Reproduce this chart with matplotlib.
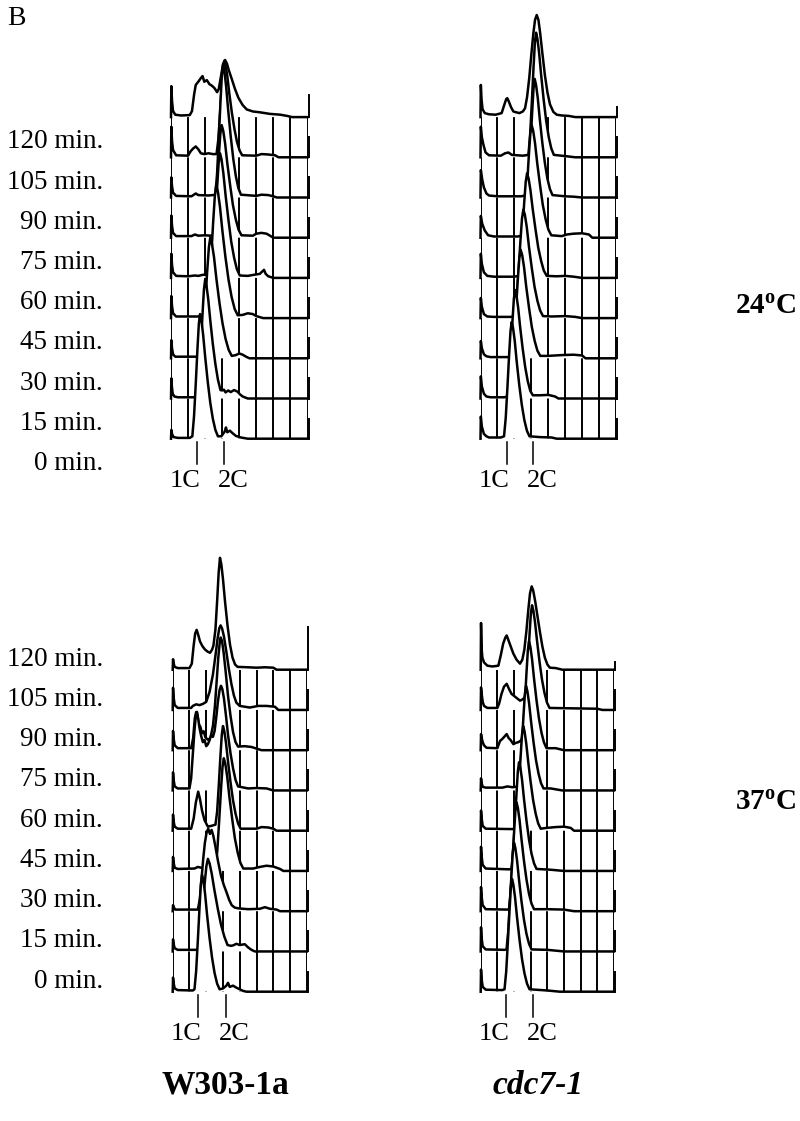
import matplotlib
matplotlib.use('Agg')
import matplotlib.pyplot as plt
from matplotlib import transforms

# ---------------- fonts ----------------
plt.rcParams['font.family'] = 'Liberation Serif'
plt.rcParams['mathtext.fontset'] = 'custom'
plt.rcParams['mathtext.rm'] = 'Liberation Serif'
plt.rcParams['mathtext.bf'] = 'Liberation Serif:bold'

# ---------------- data ----------------
# time points, one histogram per time point (bottom = 0 min)
minutes = [0, 15, 30, 45, 60, 75, 90, 105, 120]
# DNA content in grid columns (0..8), cell count in grid rows (1 row = 1 box)
# positions of the 1C / 2C markers on the DNA axis
marks_w24 = [1.54, 3.11]
marks_c24 = [1.55, 3.12]
marks_w37 = [1.53, 3.17]
marks_c37 = [1.52, 3.16]

# W303-1a, 24C
w24_000 = [(0, 0), (0.02, 0.22), (0.06, 0.12), (0.15, 0.04), (0.4, 0.02), (1.1, 0.02),
           (1.25, 0.06), (1.35, 0.56), (1.45, 1.36), (1.55, 2.23), (1.63, 2.85), (1.7, 3.1), (1.78, 2.95),
           (1.88, 2.6), (2.0, 2.05), (2.15, 1.43), (2.3, 0.9), (2.45, 0.5), (2.6, 0.22), (2.75, 0.06),
           (2.95, 0.06), (3.05, 0.12), (3.15, 0.18), (3.22, 0.28), (3.3, 0.16), (3.45, 0.2), (3.6, 0.14),
           (3.8, 0.07), (4.1, 0.03), (4.5, 0)]
w24_015 = [(0, 0), (0.02, 0.5), (0.05, 0.3), (0.1, 0.12), (0.2, 0.05), (0.4, 0.03), (1.35, 0.03),
           (1.55, 0.06), (1.65, 0.53), (1.75, 1.3), (1.85, 2.12), (1.93, 2.71), (2.0, 2.95), (2.08, 2.8),
           (2.18, 2.48), (2.3, 1.95), (2.45, 1.36), (2.6, 0.86), (2.75, 0.47), (2.9, 0.21), (3.0, 0.2),
           (3.1, 0.22), (3.2, 0.15), (3.35, 0.2), (3.5, 0.16), (3.7, 0.21), (3.9, 0.17), (4.05, 0.1),
           (4.2, 0.05), (4.5, 0)]
w24_030 = [(0, 0), (0.02, 0.45), (0.06, 0.25), (0.12, 0.1), (0.25, 0.04), (1.55, 0.04),
           (1.76, 0.06), (1.88, 0.54), (2.0, 1.32), (2.12, 2.16), (2.22, 2.76), (2.3, 3.0), (2.4, 2.85),
           (2.52, 2.52), (2.66, 1.98), (2.84, 1.38), (3.02, 0.87), (3.2, 0.48), (3.38, 0.21), (3.56, 0.06),
           (3.8, 0.08), (4.0, 0.12), (4.2, 0.09), (4.4, 0.04), (4.6, 0)]
w24_045 = [(0, 0), (0.02, 0.55), (0.06, 0.3), (0.12, 0.12), (0.3, 0.04), (1.6, 0.04), (1.8, 0.06),
           (2.0, 0.05), (2.11, 0.07), (2.23, 0.59), (2.35, 1.45), (2.47, 2.38), (2.57, 3.04), (2.65, 3.3),
           (2.75, 3.14), (2.87, 2.77), (3.01, 2.18), (3.19, 1.52), (3.37, 0.96), (3.55, 0.53), (3.73, 0.23),
           (3.91, 0.07), (4.2, 0.08), (4.5, 0.12), (4.8, 0.1), (5.0, 0.05), (5.4, 0)]
w24_060 = [(0, 0), (0.02, 0.6), (0.06, 0.32), (0.12, 0.14), (0.3, 0.05), (1.0, 0.04), (1.4, 0.06),
           (1.6, 0.05), (1.9, 0.08), (2.2, 0.06), (2.37, 0.06), (2.48, 0.56), (2.59, 1.36), (2.7, 2.23),
           (2.79, 2.85), (2.87, 3.1), (2.96, 2.95), (3.07, 2.6), (3.2, 2.05), (3.37, 1.43), (3.53, 0.9),
           (3.7, 0.5), (3.86, 0.22), (4.03, 0.06), (4.5, 0.05), (4.9, 0.08), (5.2, 0.1), (5.45, 0.2),
           (5.55, 0.1), (5.7, 0.04), (6.0, 0)]
w24_075 = [(0, 0), (0.02, 0.55), (0.06, 0.3), (0.12, 0.12), (0.3, 0.04), (1.2, 0.04), (1.4, 0.08),
           (1.6, 0.05), (2.0, 0.06), (2.3, 0.05), (2.47, 0.06), (2.58, 0.5), (2.69, 1.23), (2.8, 2.02),
           (2.89, 2.58), (2.97, 2.8), (3.06, 2.66), (3.17, 2.35), (3.3, 1.85), (3.47, 1.29), (3.63, 0.81),
           (3.8, 0.45), (3.96, 0.2), (4.13, 0.06), (4.8, 0.05), (5.0, 0.1), (5.3, 0.12), (5.6, 0.1),
           (5.8, 0.05), (6.0, 0)]
w24_090 = [(0, 0), (0.02, 0.5), (0.06, 0.28), (0.12, 0.12), (0.3, 0.04), (1.2, 0.03), (1.45, 0.1),
           (1.6, 0.06), (2.2, 0.05), (2.45, 0.06), (2.6, 0.07), (2.7, 0.59), (2.8, 1.45), (2.9, 2.38),
           (2.98, 3.04), (3.05, 3.3), (3.13, 3.14), (3.23, 2.77), (3.35, 2.18), (3.5, 1.52), (3.65, 0.96),
           (3.8, 0.53), (3.95, 0.23), (4.1, 0.07), (5.0, 0.04), (5.3, 0.07), (5.7, 0.06), (6.0, 0.03), (6.2, 0)]
w24_105 = [(0, 0), (0.02, 0.76), (0.06, 0.4), (0.12, 0.18), (0.3, 0.05), (1.0, 0.04), (1.15, 0.15),
           (1.3, 0.22), (1.45, 0.27), (1.6, 0.2), (1.75, 0.1), (1.95, 0.08), (2.2, 0.1), (2.45, 0.08),
           (2.67, 0.08), (2.77, 0.43), (2.87, 1.06), (2.97, 1.73), (3.05, 2.21), (3.12, 2.4), (3.2, 2.28),
           (3.3, 2.02), (3.42, 1.58), (3.57, 1.1), (3.72, 0.7), (3.87, 0.38), (4.02, 0.17), (4.17, 0.05),
           (5.0, 0.04), (5.3, 0.08), (5.7, 0.07), (6.1, 0.05), (6.3, 0)]
w24_120 = [(0, 0), (0.02, 0.77), (0.06, 0.4), (0.12, 0.15), (0.25, 0.06), (0.6, 0.04), (1.1, 0.05),
           (1.23, 0.15), (1.35, 0.55), (1.45, 0.8), (1.6, 0.88), (1.75, 0.97), (1.85, 1.02), (1.95, 0.88),
           (2.1, 0.92), (2.25, 0.82), (2.4, 0.78), (2.55, 0.72), (2.7, 0.62), (2.8, 0.7), (2.93, 1.02),
           (3.05, 1.32), (3.17, 1.42), (3.28, 1.33), (3.4, 1.15), (3.56, 0.95), (3.75, 0.7), (3.95, 0.48),
           (4.2, 0.3), (4.44, 0.19), (4.8, 0.14), (5.2, 0.12), (5.8, 0.08), (6.4, 0.06), (6.8, 0.03), (7.1, 0)]

# cdc7-1, 24C
c24_000 = [(0, 0), (0.02, 0.55), (0.08, 0.3), (0.2, 0.12), (0.35, 0.06), (0.5, 0.03), (1.2, 0.03),
           (1.39, 0.06), (1.49, 0.52), (1.59, 1.28), (1.69, 2.09), (1.77, 2.67), (1.84, 2.9), (1.92, 2.76),
           (2.02, 2.44), (2.14, 1.91), (2.29, 1.33), (2.44, 0.84), (2.59, 0.46), (2.74, 0.2), (2.89, 0.06),
           (3.5, 0.04), (4.2, 0.03), (4.5, 0)]
c24_015 = [(0, 0), (0.02, 0.55), (0.08, 0.3), (0.2, 0.12), (0.35, 0.05), (0.6, 0.03), (1.4, 0.03),
           (1.59, 0.05), (1.69, 0.49), (1.79, 1.19), (1.89, 1.94), (1.97, 2.48), (2.04, 2.7), (2.12, 2.57),
           (2.22, 2.27), (2.34, 1.78), (2.49, 1.24), (2.64, 0.78), (2.79, 0.43), (2.94, 0.19), (3.09, 0.08),
           (3.5, 0.08), (4.0, 0.09), (4.4, 0.05), (4.6, 0)]
c24_030 = [(0, 0), (0.02, 0.43), (0.08, 0.25), (0.2, 0.1), (0.35, 0.05), (0.6, 0.03), (1.7, 0.03),
           (1.87, 0.05), (1.98, 0.49), (2.09, 1.19), (2.2, 1.94), (2.29, 2.48), (2.37, 2.7), (2.46, 2.57),
           (2.57, 2.27), (2.7, 1.78), (2.87, 1.24), (3.03, 0.78), (3.2, 0.43), (3.36, 0.19), (3.53, 0.06),
           (4.0, 0.06), (4.8, 0.08), (5.5, 0.09), (6.0, 0.07), (6.2, 0)]
c24_045 = [(0, 0), (0.02, 0.5), (0.08, 0.28), (0.2, 0.1), (0.4, 0.04), (0.8, 0.03), (1.8, 0.03),
           (2.03, 0.05), (2.14, 0.49), (2.25, 1.19), (2.36, 1.94), (2.45, 2.48), (2.53, 2.7), (2.62, 2.57),
           (2.73, 2.27), (2.86, 1.78), (3.03, 1.24), (3.19, 0.78), (3.36, 0.43), (3.52, 0.19), (3.69, 0.05),
           (4.2, 0.04), (5.0, 0.05), (5.6, 0.03), (6.0, 0)]
c24_060 = [(0, 0), (0.02, 0.6), (0.08, 0.35), (0.2, 0.14), (0.4, 0.05), (0.8, 0.03), (2.0, 0.03),
           (2.25, 0.05), (2.36, 0.47), (2.47, 1.14), (2.58, 1.87), (2.67, 2.39), (2.75, 2.6), (2.84, 2.47),
           (2.95, 2.18), (3.08, 1.72), (3.25, 1.2), (3.41, 0.75), (3.58, 0.42), (3.74, 0.18), (3.91, 0.05),
           (4.5, 0.04), (5.0, 0.05), (5.5, 0.03), (6.0, 0)]
c24_075 = [(0, 0), (0.02, 0.54), (0.1, 0.35), (0.25, 0.18), (0.45, 0.06), (0.8, 0.03), (2.2, 0.03),
           (2.52, 0.06), (2.63, 0.5), (2.74, 1.23), (2.85, 2.02), (2.94, 2.58), (3.02, 2.8), (3.11, 2.66),
           (3.22, 2.35), (3.35, 1.85), (3.52, 1.29), (3.68, 0.81), (3.85, 0.45), (4.01, 0.2), (4.18, 0.06),
           (4.8, 0.04), (5.1, 0.08), (5.5, 0.1), (6.0, 0.11), (6.4, 0.08), (6.6, 0)]
c24_090 = [(0, 0), (0.02, 0.68), (0.1, 0.45), (0.2, 0.25), (0.35, 0.1), (0.5, 0.05), (1.0, 0.03),
           (2.4, 0.03), (2.75, 0.06), (2.85, 0.53), (2.95, 1.3), (3.05, 2.12), (3.13, 2.71), (3.2, 2.95),
           (3.28, 2.8), (3.38, 2.48), (3.5, 1.95), (3.65, 1.36), (3.8, 0.86), (3.95, 0.47), (4.1, 0.21),
           (4.25, 0.06), (5.0, 0.03), (5.5, 0.02), (6.0, 0)]
c24_105 = [(0, 0), (0.02, 0.76), (0.08, 0.5), (0.18, 0.3), (0.3, 0.12), (0.5, 0.05), (1.2, 0.04),
           (1.45, 0.1), (1.65, 0.12), (1.85, 0.06), (2.5, 0.04), (2.83, 0.06), (2.93, 0.56), (3.03, 1.36),
           (3.13, 2.23), (3.21, 2.85), (3.28, 3.1), (3.36, 2.95), (3.46, 2.6), (3.58, 2.05), (3.73, 1.43),
           (3.88, 0.9), (4.03, 0.5), (4.18, 0.22), (4.33, 0.06), (5.0, 0.03), (5.6, 0)]
c24_120 = [(0, 0), (0.02, 0.8), (0.06, 0.45), (0.12, 0.2), (0.25, 0.1), (0.5, 0.07), (0.9, 0.06),
           (1.25, 0.1), (1.4, 0.3), (1.52, 0.45), (1.58, 0.47), (1.66, 0.4), (1.8, 0.25), (1.94, 0.14),
           (2.1, 0.12), (2.3, 0.1), (2.5, 0.14), (2.63, 0.22), (2.75, 0.5), (2.88, 0.98), (3.0, 1.55),
           (3.12, 2.08), (3.22, 2.42), (3.32, 2.54), (3.42, 2.42), (3.52, 2.1), (3.65, 1.6), (3.8, 1.05),
           (3.95, 0.62), (4.1, 0.32), (4.3, 0.13), (4.5, 0.06), (4.8, 0.04), (5.2, 0.03), (5.6, 0)]

# W303-1a, 37C
w37_000 = [(0, 0), (0.02, 0.35), (0.06, 0.2), (0.12, 0.08), (0.3, 0.04), (1.2, 0.03),
           (1.3, 0.06), (1.4, 0.52), (1.5, 1.28), (1.6, 2.09), (1.68, 2.67), (1.75, 2.9), (1.83, 2.76),
           (1.93, 2.44), (2.05, 1.91), (2.2, 1.33), (2.35, 0.84), (2.5, 0.46), (2.65, 0.2), (2.8, 0.06),
           (3.0, 0.08), (3.2, 0.15), (3.3, 0.22), (3.4, 0.12), (3.6, 0.15), (3.8, 0.1), (4.0, 0.06),
           (4.2, 0.02), (4.4, 0)]
w37_015 = [(0, 0), (0.02, 0.3), (0.06, 0.18), (0.12, 0.08), (0.3, 0.04), (1.35, 0.04),
           (1.51, 0.05), (1.64, 0.41), (1.77, 1.01), (1.9, 1.66), (2.01, 2.12), (2.1, 2.3), (2.2, 2.19),
           (2.33, 1.93), (2.49, 1.52), (2.69, 1.06), (2.88, 0.67), (3.08, 0.37), (3.27, 0.16), (3.47, 0.14),
           (3.6, 0.15), (3.8, 0.19), (4.0, 0.16), (4.3, 0.18), (4.5, 0.1), (4.7, 0.04), (4.9, 0)]
w37_030 = [(0, 0), (0.02, 0.15), (0.06, 0.1), (0.15, 0.04), (1.5, 0.04), (1.62, 0.3), (1.72, 0.8),
           (1.82, 1.3), (1.92, 1.7), (2.02, 1.95), (2.12, 2.05), (2.22, 1.92), (2.32, 2.02), (2.42, 1.88),
           (2.55, 1.6), (2.7, 1.25), (2.88, 0.88), (3.05, 0.65), (3.22, 0.46), (3.37, 0.28), (3.52, 0.15),
           (3.7, 0.09), (3.92, 0.07), (4.5, 0.05), (5.2, 0.06), (5.5, 0.1), (5.8, 0.06), (6.2, 0.04), (6.4, 0)]
w37_045 = [(0, 0), (0.02, 0.35), (0.06, 0.2), (0.12, 0.08), (0.3, 0.05), (1.3, 0.06), (1.5, 0.1),
           (1.8, 0.07), (2.3, 0.08), (2.55, 0.08), (2.66, 0.5), (2.77, 1.23), (2.88, 2.02), (2.97, 2.58),
           (3.05, 2.8), (3.14, 2.66), (3.25, 2.35), (3.38, 1.85), (3.55, 1.29), (3.71, 0.81), (3.88, 0.45),
           (4.04, 0.2), (4.21, 0.06), (4.8, 0.06), (5.2, 0.1), (5.6, 0.13), (6.0, 0.11), (6.4, 0.05), (6.6, 0)]
w37_060 = [(0, 0), (0.02, 0.4), (0.06, 0.22), (0.12, 0.1), (0.3, 0.05), (1.1, 0.05), (1.25, 0.3),
           (1.38, 0.7), (1.52, 0.97), (1.62, 0.8), (1.75, 0.5), (1.9, 0.26), (2.1, 0.1), (2.3, 0.12),
           (2.55, 0.15), (2.65, 0.47), (2.75, 1.14), (2.85, 1.87), (2.93, 2.39), (3.0, 2.6), (3.08, 2.47),
           (3.18, 2.18), (3.3, 1.72), (3.45, 1.2), (3.6, 0.75), (3.75, 0.42), (3.9, 0.18), (4.05, 0.05),
           (4.3, 0.05), (5.0, 0.05), (5.3, 0.09), (5.7, 0.08), (6.0, 0.05), (6.2, 0)]
w37_075 = [(0, 0), (0.02, 0.45), (0.06, 0.25), (0.12, 0.1), (0.3, 0.05), (1.0, 0.05), (1.1, 0.3),
           (1.2, 0.9), (1.3, 1.5), (1.38, 1.85), (1.45, 1.95), (1.52, 1.78), (1.6, 1.55), (1.7, 1.35),
           (1.8, 1.2), (1.9, 1.25), (2.0, 1.1), (2.1, 1.15), (2.2, 1.25), (2.3, 1.38), (2.4, 1.33), (2.5, 1.48),
           (2.6, 1.82), (2.7, 2.22), (2.8, 2.5), (2.88, 2.6), (2.96, 2.52), (3.06, 2.28), (3.18, 1.85),
           (3.3, 1.38), (3.45, 0.92), (3.6, 0.55), (3.75, 0.26), (3.9, 0.1), (4.5, 0.05), (5.0, 0.06),
           (5.6, 0.05), (6.0, 0)]
w37_090 = [(0, 0), (0.02, 0.48), (0.06, 0.28), (0.12, 0.12), (0.3, 0.05), (1.1, 0.05), (1.22, 0.3),
           (1.32, 0.8), (1.4, 0.95), (1.47, 0.88), (1.55, 0.65), (1.65, 0.58), (1.75, 0.42), (1.85, 0.47),
           (1.95, 0.32), (2.1, 0.26), (2.25, 0.3), (2.4, 0.6), (2.52, 1.1), (2.62, 1.7), (2.72, 2.3),
           (2.8, 2.65), (2.86, 2.8), (2.94, 2.72), (3.04, 2.42), (3.16, 1.95), (3.3, 1.35), (3.45, 0.85),
           (3.6, 0.45), (3.75, 0.2), (3.9, 0.09), (4.3, 0.1), (4.7, 0.08), (5.0, 0.04), (5.3, 0)]
w37_105 = [(0, 0), (0.02, 0.55), (0.06, 0.3), (0.12, 0.12), (0.3, 0.05), (1.1, 0.05), (1.2, 0.1),
           (1.4, 0.14), (1.6, 0.12), (1.8, 0.15), (2.0, 0.2), (2.2, 0.45), (2.4, 0.88), (2.55, 1.35),
           (2.68, 1.78), (2.78, 2.03), (2.86, 2.1), (2.95, 2.02), (3.06, 1.82), (3.2, 1.45), (3.35, 1.02),
           (3.5, 0.65), (3.65, 0.36), (3.8, 0.18), (4.0, 0.1), (4.6, 0.06), (5.1, 0.1), (5.6, 0.1),
           (6.1, 0.08), (6.3, 0)]
w37_120 = [(0, 0), (0.02, 0.26), (0.06, 0.15), (0.12, 0.07), (0.3, 0.04), (1.0, 0.04), (1.14, 0.15),
           (1.25, 0.6), (1.34, 0.9), (1.43, 0.99), (1.52, 0.87), (1.63, 0.7), (1.78, 0.58), (1.93, 0.5),
           (2.08, 0.45), (2.23, 0.42), (2.35, 0.5), (2.43, 0.6), (2.55, 1.0), (2.65, 1.7), (2.74, 2.4),
           (2.82, 2.78), (2.9, 2.62), (3.0, 2.25), (3.12, 1.7), (3.27, 1.1), (3.42, 0.62), (3.57, 0.3),
           (3.72, 0.13), (3.87, 0.07), (4.5, 0.06), (5.0, 0.05), (5.5, 0.06), (6.0, 0.05), (6.2, 0)]

# cdc7-1, 37C
c37_000 = [(0, 0), (0.02, 0.55), (0.06, 0.3), (0.12, 0.12), (0.3, 0.05), (1.3, 0.04),
           (1.43, 0.06), (1.53, 0.5), (1.63, 1.23), (1.73, 2.02), (1.81, 2.58), (1.88, 2.8), (1.96, 2.66),
           (2.06, 2.35), (2.18, 1.85), (2.33, 1.29), (2.48, 0.81), (2.63, 0.45), (2.78, 0.2), (2.93, 0.06),
           (4.0, 0.03), (4.76, 0)]
c37_015 = [(0, 0), (0.02, 0.6), (0.06, 0.32), (0.12, 0.13), (0.3, 0.05), (1.45, 0.04),
           (1.55, 0.05), (1.65, 0.49), (1.75, 1.19), (1.85, 1.94), (1.93, 2.48), (2.0, 2.7), (2.08, 2.57),
           (2.18, 2.27), (2.3, 1.78), (2.45, 1.24), (2.6, 0.78), (2.75, 0.43), (2.9, 0.19), (3.05, 0.05),
           (4.0, 0.04), (5.0, 0)]
c37_030 = [(0, 0), (0.02, 0.6), (0.06, 0.35), (0.12, 0.15), (0.3, 0.05), (1.6, 0.04),
           (1.7, 0.05), (1.8, 0.49), (1.9, 1.19), (2.0, 1.94), (2.08, 2.48), (2.15, 2.7), (2.23, 2.57),
           (2.33, 2.27), (2.45, 1.78), (2.6, 1.24), (2.75, 0.78), (2.9, 0.43), (3.05, 0.19), (3.2, 0.05),
           (4.0, 0.05), (5.0, 0.04), (5.6, 0)]
c37_045 = [(0, 0), (0.02, 0.6), (0.06, 0.35), (0.12, 0.15), (0.3, 0.06), (1.7, 0.04),
           (1.85, 0.05), (1.95, 0.49), (2.05, 1.19), (2.15, 1.94), (2.23, 2.48), (2.3, 2.7), (2.38, 2.57),
           (2.48, 2.27), (2.6, 1.78), (2.75, 1.24), (2.9, 0.78), (3.05, 0.43), (3.2, 0.19), (3.35, 0.05),
           (4.2, 0.03), (5.0, 0)]
c37_060 = [(0, 0), (0.02, 0.5), (0.06, 0.3), (0.12, 0.12), (0.3, 0.05), (1.9, 0.04),
           (2.1, 0.05), (2.2, 0.47), (2.3, 1.14), (2.4, 1.87), (2.48, 2.39), (2.55, 2.6), (2.63, 2.47),
           (2.73, 2.18), (2.85, 1.72), (3.0, 1.2), (3.15, 0.75), (3.3, 0.42), (3.45, 0.18), (3.6, 0.05),
           (3.96, 0.07), (4.5, 0.09), (5.0, 0.1), (5.4, 0.07), (5.6, 0)]
c37_075 = [(0, 0), (0.02, 0.3), (0.06, 0.18), (0.12, 0.09), (0.3, 0.07), (1.3, 0.07), (1.6, 0.1),
           (1.9, 0.08), (2.1, 0.09), (2.27, 0.1), (2.37, 0.47), (2.47, 1.14), (2.57, 1.87), (2.65, 2.39),
           (2.72, 2.6), (2.8, 2.47), (2.9, 2.18), (3.02, 1.72), (3.17, 1.2), (3.32, 0.75), (3.47, 0.42),
           (3.62, 0.18), (3.77, 0.05), (4.2, 0.05), (4.9, 0)]
c37_090 = [(0, 0), (0.02, 0.4), (0.06, 0.3), (0.12, 0.2), (0.2, 0.12), (0.35, 0.06), (1.0, 0.05),
           (1.16, 0.23), (1.3, 0.28), (1.45, 0.35), (1.56, 0.4), (1.68, 0.3), (1.8, 0.25), (1.96, 0.15),
           (2.1, 0.18), (2.26, 0.2), (2.45, 0.25), (2.55, 0.49), (2.65, 1.19), (2.75, 1.94), (2.83, 2.48),
           (2.9, 2.7), (2.98, 2.57), (3.08, 2.27), (3.2, 1.78), (3.35, 1.24), (3.5, 0.78), (3.65, 0.43),
           (3.8, 0.19), (3.95, 0.05), (4.5, 0.05), (5.0, 0)]
c37_105 = [(0, 0), (0.02, 0.56), (0.06, 0.4), (0.12, 0.2), (0.2, 0.1), (0.4, 0.05), (1.0, 0.05),
           (1.1, 0.15), (1.25, 0.4), (1.4, 0.58), (1.56, 0.65), (1.7, 0.52), (1.85, 0.4), (2.0, 0.35),
           (2.15, 0.3), (2.36, 0.23), (2.5, 0.26), (2.63, 0.3), (2.73, 0.5), (2.83, 1.14), (2.93, 1.87),
           (3.01, 2.39), (3.08, 2.6), (3.16, 2.47), (3.26, 2.18), (3.38, 1.72), (3.53, 1.2), (3.68, 0.75),
           (3.83, 0.42), (3.98, 0.18), (4.13, 0.05), (5.5, 0.04), (7.0, 0.03), (7.3, 0)]
c37_120 = [(0, 0), (0.02, 1.16), (0.06, 0.5), (0.1, 0.3), (0.2, 0.18), (0.4, 0.1), (0.7, 0.08),
           (1.06, 0.1), (1.2, 0.35), (1.35, 0.65), (1.48, 0.8), (1.56, 0.85), (1.65, 0.75), (1.8, 0.58),
           (1.96, 0.4), (2.15, 0.25), (2.36, 0.15), (2.5, 0.25), (2.62, 0.5), (2.74, 0.95), (2.86, 1.5),
           (2.96, 1.9), (3.06, 2.07), (3.15, 1.97), (3.27, 1.7), (3.4, 1.35), (3.55, 0.95), (3.7, 0.58),
           (3.85, 0.3), (4.0, 0.13), (4.15, 0.05), (4.5, 0.04), (4.9, 0)]

w24 = [w24_000, w24_015, w24_030, w24_045, w24_060, w24_075, w24_090, w24_105, w24_120]
c24 = [c24_000, c24_015, c24_030, c24_045, c24_060, c24_075, c24_090, c24_105, c24_120]
w37 = [w37_000, w37_015, w37_030, w37_045, w37_060, w37_075, w37_090, w37_105, w37_120]
c37 = [c37_000, c37_015, c37_030, c37_045, c37_060, c37_075, c37_090, c37_105, c37_120]

# ---------------- layout (pixels of the 800 x 1121 page) ----------------
W, H = 800, 1121
fig = plt.figure(figsize=(W / 100, H / 100), dpi=100)
YLO, YHI = -1.6, 10.9


def make_panel(x0, x8, base, row):
    bottom_px = base - YLO * row
    top_px = base - YHI * row
    ax = fig.add_axes([x0 / W, 1 - bottom_px / H, (x8 - x0) / W, (bottom_px - top_px) / H])
    ax.set_xlim(0, 8)
    ax.set_ylim(YLO, YHI)
    ax.axis('off')
    return ax


def draw_panel(ax, hists, marks, top_edge):
    # grid columns
    for c in range(9):
        ax.plot([c, c], [0, 8], color='k', lw=1.4, zorder=1, solid_capstyle='butt')
    # histograms, back (120 min) to front (0 min)
    for k in range(8, -1, -1):
        xs = [p[0] for p in hists[k]] + [8]
        ys = [k + p[1] for p in hists[k]] + [k]
        z = 2 + 2 * (8 - k)
        ax.fill(xs + [0], ys + [k], color='white', lw=0, zorder=z, clip_on=False)
        ax.plot(xs, ys, color='k', lw=1.8, zorder=z + 1, clip_on=False)
        # right side of each histogram frame
        edge = top_edge if k == 8 else 0.5
        ax.plot([8.06, 8.06], [k, k + edge], color='k', lw=1.4, zorder=z + 1, clip_on=False)
    # 1C / 2C markers
    for xm, lab, dx in zip(marks, ['1C', '2C'], [-0.74, 0.53]):
        ax.plot([xm, xm], [-0.08, -0.62], color='k', lw=1.1, clip_on=False)
        ax.text(xm + dx, -1.2, lab, ha='center', va='baseline', fontsize=19)


def time_labels(ax, dy):
    trans = transforms.blended_transform_factory(fig.transFigure, ax.transData)
    for k, m in enumerate(minutes):
        ax.text(103 / W, k + dy, f'{m} min.', transform=trans, ha='right', va='baseline', fontsize=19.5)


ax_tl = make_panel(171.0, 307.5, 438.7, 40.2)
ax_tr = make_panel(480.5, 616.0, 438.7, 40.2)
ax_bl = make_panel(172.7, 306.8, 991.7, 40.25)
ax_br = make_panel(480.7, 614.0, 991.7, 40.25)

draw_panel(ax_tl, w24, marks_w24, 0.55)
draw_panel(ax_tr, c24, marks_c24, 0.26)
draw_panel(ax_bl, w37, marks_w37, 1.05)
draw_panel(ax_br, c37, marks_c37, 0.2)

time_labels(ax_tl, -0.78)
time_labels(ax_bl, 0.1)

fig.text(7 / W, 1 - 25 / H, 'B', fontsize=20)
fig.text(735 / W, 1 - 314 / H, r'$\mathbf{24^{o}C}$', fontsize=21, va='baseline')
fig.text(735 / W, 1 - 810 / H, r'$\mathbf{37^{o}C}$', fontsize=21, va='baseline')
fig.text(225 / W, 1 - 1094 / H, 'W303-1a', fontsize=24, fontweight='bold', ha='center', va='baseline')
fig.text(538 / W, 1 - 1094 / H, 'cdc7-1', fontsize=24, fontweight='bold', fontstyle='italic',
         ha='center', va='baseline')

fig.savefig('out.png', dpi=100)
